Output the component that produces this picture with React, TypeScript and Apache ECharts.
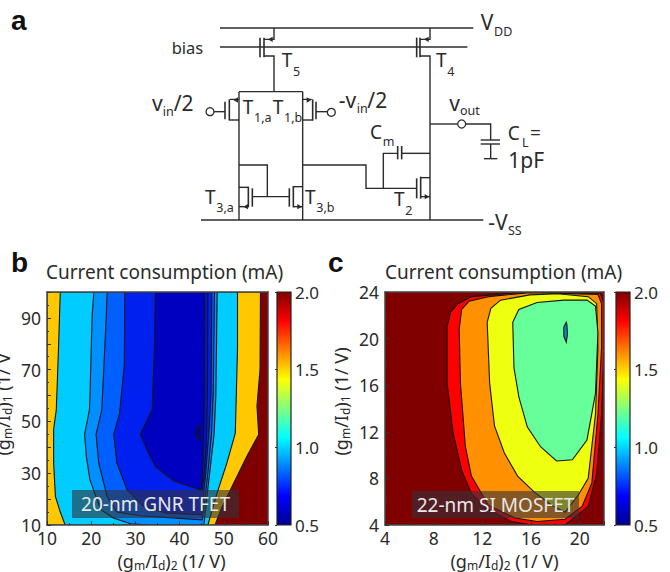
import React, { useEffect, useRef } from "react";
import * as echarts from "echarts";

const FONT = "'Noto Sans', sans-serif";
const INK = "#2b2b2b";

// Panel b: contour regions, painted outermost first, [x, y] in axis units
const bBackgroundColor = "#800000";
const bOrange = [[10,10],[10,100],[58.3,100],[58.2,70],[57.5,56],[57.9,45],[55.2,36.5],[52.2,26],[49.6,17],[48,10]];
const bCyan = [[13,100],[12.6,78],[12.1,54.5],[11.5,47],[11.5,34],[11.9,21],[13,15],[14.1,10],[46.4,10],[48.5,22.4],[50.7,34],[52.6,45.5],[53.1,78],[53.1,100]];
const bMid = [[20.6,100],[20.2,90.5],[19.7,58.4],[19.6,54.5],[18.5,45],[18.9,36.5],[19.7,27.5],[22.1,16],[25,12.7],[28.9,10.5],[33.4,10],[45.5,10],[46,18],[46.8,30],[47.8,45],[48.2,60],[48.5,100]];
const bNext = [[23.6,100],[23.4,90],[22.4,54.5],[21.1,45],[21.7,34],[23.6,21],[25.8,15],[31,13.6],[45.1,12],[45.6,18],[46.4,30],[47.2,45],[47.6,60],[47.9,100]];
const bBlue = [[27.6,100],[27.5,72],[26.4,53],[25.1,45],[25.8,34],[28.1,23.6],[31.9,17],[37.1,14.6],[45,14],[45.3,20],[45.9,30],[46.6,45],[47.1,60],[47.3,100]];
const bDark = [[34.5,100],[34.3,78],[33.8,54.5],[31.1,45],[32.6,39],[34.5,32.6],[38.7,27],[45,23.4],[45.4,40],[45.6,60],[45.6,100]];
const bSliver = [[45.6,100],[46.4,100],[46.3,60],[46,40],[45.5,28],[45,23.4],[45.4,40],[45.6,60]];
const bMinimum = [[44.5,49],[44.6,42.7],[43.5,45]];
const bContours = [bOrange, bCyan, bMid, bNext, bBlue, bDark, bSliver, bMinimum];
const bColors = ["#ffc800", "#00ccff", "#0090ff", "#0060ff", "#0020f0", "#0000c0", "#0010e0", "#0000a0"];
const bXLabels = [10, 20, 30, 40, 50, 60];
const bYLabels = [10, 30, 50, 70, 90];

// Panel c
const cBackgroundColor = "#800000";
const cRed = [[11.1,23.6],[10,23],[9.4,22.3],[9.1,21],[9.1,16.2],[9.6,11.9],[10.3,8.7],[11.1,6.7],[12.5,5.3],[14.4,4.3],[16.1,4],[18.8,4],[20.7,5.6],[21.4,8.4],[21.8,13.5],[22,19.2],[22,23],[21.7,23.9],[15,23.95]];
const cOrange = [[12.5,23.6],[10.9,23.2],[10.3,22.5],[10.1,20.8],[10.2,16.2],[10.6,10.8],[11.1,8.2],[12.5,5.7],[14.7,4.6],[16.5,4.3],[18.8,4.5],[20.2,5.6],[21,7.6],[21.5,13.5],[21.8,19.2],[21.8,23],[21.5,23.8],[15.9,23.95]];
const cYellow = [[15.9,23.75],[13.5,23.3],[12.7,22.6],[12.4,21.4],[12.6,16.2],[13,12.5],[13.8,10.2],[14.9,8.2],[16.3,6.8],[17.7,5.7],[18.8,5.1],[19.9,6.6],[20.7,8],[21.3,13.5],[21.5,19.2],[21.4,23],[20.7,23.6],[18.2,23.85]];
const cGreen = [[20.6,23.3],[18.7,23.3],[16.5,23.1],[15,22.5],[14.5,21.4],[14.6,17.5],[15,15],[15.7,12.4],[16.8,10.7],[18.1,9.5],[19.4,9.6],[20.6,11.3],[21.3,15.3],[21.5,20.5],[21.3,22.8]];
const cMinimum = [[18.9,21.4],[18.7,21],[18.7,20.2],[18.9,19.7],[19,20.4],[18.95,21.2]];
const cContours = [cRed, cOrange, cYellow, cGreen, cMinimum];
const cColors = ["#ff0000", "#ff9000", "#eeff10", "#66ff99", "#0090c0"];
const cXLabels = [4, 8, 12, 16, 20];
const cYLabels = [4, 8, 12, 16, 20, 24];

// Colour bar
const barRange = [0.5, 2.0];
const barLabels = [0.5, 1.0, 1.5, 2.0];
const jetStops = [[0,"#800000"],[0.125,"#ff0000"],[0.375,"#ffff00"],[0.625,"#00ffff"],[0.875,"#0000ff"],[1,"#00008f"]];

const titleText = "Current consumption (mA)";
const bNote = "20-nm GNR TFET";
const cNote = "22-nm SI MOSFET";

// Schematic: polylines in a 3x drawing space offset by (130,0)
const wires: number[][][] = [
  [[270,84],[1030,84]],
  [[270,141],[1012,141]],
  [[402,118],[432,118],[432,84]],
  [[402,168],[432,168],[432,275]],
  [[870,118],[900,118],[900,84]],
  [[870,168],[900,168],[900,660]],
  [[327,660],[327,298],[300,298]],
  [[518,660],[518,298],[545,298]],
  [[327,275],[518,275]],
  [[327,298],[327,275]],
  [[518,298],[518,275]],
  [[300,360],[327,360]],
  [[548,360],[518,360]],
  [[252,335],[285,335]],
  [[558,335],[592,335]],
  [[327,562],[355,562]],
  [[327,620],[355,620]],
  [[518,560],[490,560]],
  [[518,620],[490,620]],
  [[367,590],[478,590]],
  [[412,590],[412,495],[327,495]],
  [[518,495],[708,495],[708,565],[860,565]],
  [[760,565],[760,460],[803,460]],
  [[815,460],[900,460]],
  [[872,533],[900,533]],
  [[872,590],[900,590]],
  [[213,660],[1060,660]],
  [[900,372],[983,372]],
  [[1008,372],[1082,372],[1082,420]],
  [[1052,420],[1110,420]],
  [[1052,432],[1110,432]],
  [[1082,432],[1082,476]],
  [[1062,476],[1102,476]],
];
const bars: number[][][] = [
  [[390,113],[390,172]],[[402,113],[402,172]],
  [[860,113],[860,172]],[[870,113],[870,172]],
  [[298,298],[298,362]],[[285,305],[285,358]],
  [[548,298],[548,362]],[[558,305],[558,358]],
  [[355,560],[355,622]],[[367,565],[367,620]],
  [[490,558],[490,622]],[[478,565],[478,620]],
  [[860,535],[860,595]],[[872,530],[872,596]],
  [[803,438],[803,478]],[[815,438],[815,478]],
];
const arrows: number[][][] = [
  [[414,118],[428,110],[428,126]],
  [[882,118],[896,110],[896,126]],
  [[310,300],[324,292],[324,308]],
  [[544,300],[530,292],[530,308]],
  [[340,620],[354,612],[354,628]],
  [[516,620],[502,612],[502,628]],
  [[898,590],[884,582],[884,598]],
];
const nodes = [[240,335],[604,337],[995,372]];
// [x, y, text, fontSize]
const labels: [number, number, string, number][] = [
  [1052,65,"V",21],[1092,95,"DD",12.5],
  [125,143,"bias",16.5],
  [455,180,"T",19],[489,213,"5",12.5],
  [918,180,"T",19],[952,213,"4",12.5],
  [66,308,"v",21],[98,335,"in",12.5],[131,308,"/2",21],
  [338,320,"T",19],[372,352,"1,a",12.5],
  [428,320,"T",19],[462,352,"1,b",12.5],
  [626,300,"-v",21],[680,325,"in",12.5],[712,300,"/2",21],
  [958,308,"v",21],[990,332,"out",12.5],
  [720,395,"C",19],[758,423,"m",12.5],
  [1133,398,"C",19],[1176,428,"L",12.5],[1200,398,"=",19],
  [1135,480,"1pF",21],
  [225,590,"T",19],[259,622,"3,a",12.5],
  [525,590,"T",19],[559,622,"3,b",12.5],
  [792,597,"T",19],[826,632,"2",12.5],
  [1075,665,"-V",21],[1134,690,"SS",12.5],
];

const sx = (v: number) => 130 + v / 3;
const sy = (v: number) => v / 3;
const pts = (p: number[][]) => p.map(([a, b]) => [sx(a), sy(b)]);

function schematic() {
  const out: any[] = [];
  wires.forEach((w) => out.push({ type: "polyline", z: 50, shape: { points: pts(w) }, style: { stroke: INK, lineWidth: 1.4, fill: "none" } }));
  bars.forEach((w) => out.push({ type: "polyline", z: 50, shape: { points: pts(w) }, style: { stroke: INK, lineWidth: 1.6, fill: "none" } }));
  arrows.forEach((w) => out.push({ type: "polygon", z: 50, shape: { points: pts(w) }, style: { fill: INK } }));
  nodes.forEach(([a, b]) => out.push({ type: "circle", z: 50, shape: { cx: sx(a), cy: sy(b), r: 4 }, style: { fill: "#fff", stroke: INK, lineWidth: 1.3 } }));
  labels.forEach(([a, b, t, s]) => out.push({ type: "text", z: 50, x: sx(a), y: sy(b), style: { text: t, fontSize: s, fontFamily: FONT, fill: INK, verticalAlign: "middle", align: "left" } }));
  return out;
}

const axisName = (sub: string) => `{n|(g}{s|m}{n|/I}{s|d}{n|)}{s|${sub}}{n| (1/ V)}`;
const nameRich = {
  n: { fontSize: 18, fontFamily: FONT, color: INK },
  s: { fontSize: 12, fontFamily: FONT, color: INK, padding: [8, 0, 0, 0] },
};

function mainAxis(dim: "x" | "y", gridIndex: number, min: number, max: number, interval: number, shown: number[], sub: string, nameGap: number, shift: number) {
  return {
    type: "value", gridIndex, min, max, interval, z: 5,
    position: dim === "x" ? "bottom" : "left",
    name: axisName(sub), nameLocation: "middle", nameGap,
    nameTextStyle: { rich: nameRich, padding: [0, 0, 0, shift] },
    splitLine: { show: false },
    axisLine: { show: true, onZero: false, lineStyle: { color: "#444", width: 1.5 } },
    axisTick: { show: true, inside: true, length: 4, lineStyle: { color: "#333" } },
    minorTick: { show: true, splitNumber: 2, length: 2, lineStyle: { color: "#333" } },
    axisLabel: {
      color: INK, fontSize: 17.5, fontFamily: FONT, margin: dim === "x" ? 4 : 6,
      showMinLabel: true, showMaxLabel: true, hideOverlap: false,
      formatter: (v: number) => (shown.includes(v) ? String(v) : ""),
    },
  };
}
function frameAxis(dim: "x" | "y", gridIndex: number, min: number, max: number) {
  return {
    type: "value", gridIndex, min, max, z: 5,
    position: dim === "x" ? "top" : "right",
    splitLine: { show: false },
    axisLine: { show: true, onZero: false, lineStyle: { color: "#444", width: 1.5 } },
    axisTick: { show: false }, axisLabel: { show: false },
  };
}

function contourSeries(contours: number[][][], colors: string[], xAxisIndex: number, yAxisIndex: number) {
  return {
    type: "custom", coordinateSystem: "cartesian2d", xAxisIndex, yAxisIndex, clip: true, z: 2,
    data: contours.map((_, i) => [i]),
    encode: { x: 0 },
    renderItem: (params: any, api: any) => {
      const i = params.dataIndex;
      return {
        type: "polygon",
        shape: { points: contours[i].map((p) => api.coord(p)) },
        style: { fill: colors[i], stroke: "#151515", lineWidth: 1.1 },
      };
    },
  };
}
function backgroundSeries(color: string, x: number[], y: number[], xAxisIndex: number, yAxisIndex: number) {
  return {
    type: "custom", coordinateSystem: "cartesian2d", xAxisIndex, yAxisIndex, clip: true, z: 1,
    data: [[x[0], y[0]]],
    renderItem: (_: any, api: any) => {
      const a = api.coord([x[0], y[1]]);
      const b = api.coord([x[1], y[0]]);
      return { type: "rect", shape: { x: a[0], y: a[1], width: b[0] - a[0], height: b[1] - a[1] }, style: { fill: color } };
    },
  };
}
function barSeries(xAxisIndex: number, yAxisIndex: number) {
  return {
    type: "custom", coordinateSystem: "cartesian2d", xAxisIndex, yAxisIndex, z: 2,
    data: [[0, barRange[0]]],
    renderItem: (_: any, api: any) => {
      const a = api.coord([0, barRange[1]]);
      const b = api.coord([1, barRange[0]]);
      return {
        type: "rect",
        shape: { x: a[0], y: a[1], width: b[0] - a[0], height: b[1] - a[1] },
        style: {
          fill: new echarts.graphic.LinearGradient(0, 0, 0, 1, jetStops.map(([offset, color]) => ({ offset: offset as number, color: color as string }))),
          stroke: "#222", lineWidth: 1.2,
        },
      };
    },
  };
}
function barYAxis(gridIndex: number) {
  return {
    type: "value", gridIndex, min: 0.5, max: 2, interval: 0.5, position: "right", z: 5,
    splitLine: { show: false },
    axisLine: { show: false },
    axisTick: { show: true, inside: true, length: 2, lineStyle: { color: "#333" } },
    axisLabel: { color: INK, fontSize: 17, fontFamily: FONT, margin: 4, formatter: (v: number) => (barLabels.includes(v) ? v.toFixed(1) : "") },
  };
}

export default function App() {
  const ref = useRef<HTMLDivElement>(null);
  useEffect(() => {
    const chart = echarts.init(ref.current!, null, { renderer: "svg" });
    const bx = [10, 60], by = [10, 100], cx = [4, 22], cy = [4, 24];
    chart.setOption({
      animation: false,
      backgroundColor: "#fff",
      title: [
        { text: titleText, left: 46, top: 262, padding: 0, textStyle: { fontSize: 19, fontWeight: "normal", fontFamily: FONT, color: INK } },
        { text: titleText, left: 385, top: 262, padding: 0, textStyle: { fontSize: 19, fontWeight: "normal", fontFamily: FONT, color: INK } },
      ],
      grid: [
        { left: 47, top: 292, width: 221, height: 233, outerBoundsMode: "none" },
        { left: 385, top: 292, width: 219, height: 233, outerBoundsMode: "none" },
        { left: 277, top: 292, width: 14, height: 233, outerBoundsMode: "none" },
        { left: 616, top: 292, width: 14, height: 233, outerBoundsMode: "none" },
      ],
      xAxis: [
        mainAxis("x", 0, bx[0], bx[1], 10, bXLabels, "2", 26, 28),
        frameAxis("x", 0, bx[0], bx[1]),
        mainAxis("x", 1, cx[0], cx[1], 4, cXLabels, "2", 26, 20),
        frameAxis("x", 1, cx[0], cx[1]),
        { type: "value", gridIndex: 2, min: 0, max: 1, show: false },
        { type: "value", gridIndex: 3, min: 0, max: 1, show: false },
      ],
      yAxis: [
        mainAxis("y", 0, by[0], by[1], 10, bYLabels, "1", 34, 14),
        frameAxis("y", 0, by[0], by[1]),
        mainAxis("y", 1, cy[0], cy[1], 4, cYLabels, "1", 34, 14),
        frameAxis("y", 1, cy[0], cy[1]),
        barYAxis(2),
        barYAxis(3),
      ],
      series: [
        backgroundSeries(bBackgroundColor, bx, by, 0, 0),
        contourSeries(bContours, bColors, 0, 0),
        backgroundSeries(cBackgroundColor, cx, cy, 2, 2),
        contourSeries(cContours, cColors, 2, 2),
        barSeries(4, 4),
        barSeries(5, 5),
      ],
      graphic: [
        ...schematic(),
        { type: "text", z: 50, x: 11, y: 6, style: { text: "a", fontSize: 28, fontWeight: "bold", fontFamily: "'Liberation Sans'", fill: "#111" } },
        { type: "text", z: 50, x: 11, y: 248, style: { text: "b", fontSize: 28, fontWeight: "bold", fontFamily: "'Liberation Sans'", fill: "#111" } },
        { type: "text", z: 50, x: 328, y: 248, style: { text: "c", fontSize: 28, fontWeight: "bold", fontFamily: "'Liberation Sans'", fill: "#111" } },
        { type: "rect", z: 50, shape: { x: 72, y: 490, width: 167, height: 28 }, style: { fill: "rgba(50,50,60,0.6)" } },
        { type: "rect", z: 50, shape: { x: 412, y: 491, width: 167, height: 27 }, style: { fill: "rgba(50,50,60,0.6)" } },
        { type: "text", z: 51, x: 155.5, y: 504, style: { text: bNote, fontSize: 19, fontFamily: FONT, fill: "#e8e8e8", align: "center", verticalAlign: "middle" } },
        { type: "text", z: 51, x: 495.5, y: 505, style: { text: cNote, fontSize: 19, fontFamily: FONT, fill: "#e8e8e8", align: "center", verticalAlign: "middle" } },
        { type: "rect", z: 60, shape: { x: 0, y: 290, width: 18, height: 62 }, style: { fill: "#fff" } },
      ],
    });
    return () => chart.dispose();
  }, []);
  return <div ref={ref} style={{ position: "absolute", left: 0, top: 0, width: 670, height: 572, background: "#fff" }} />;
}
